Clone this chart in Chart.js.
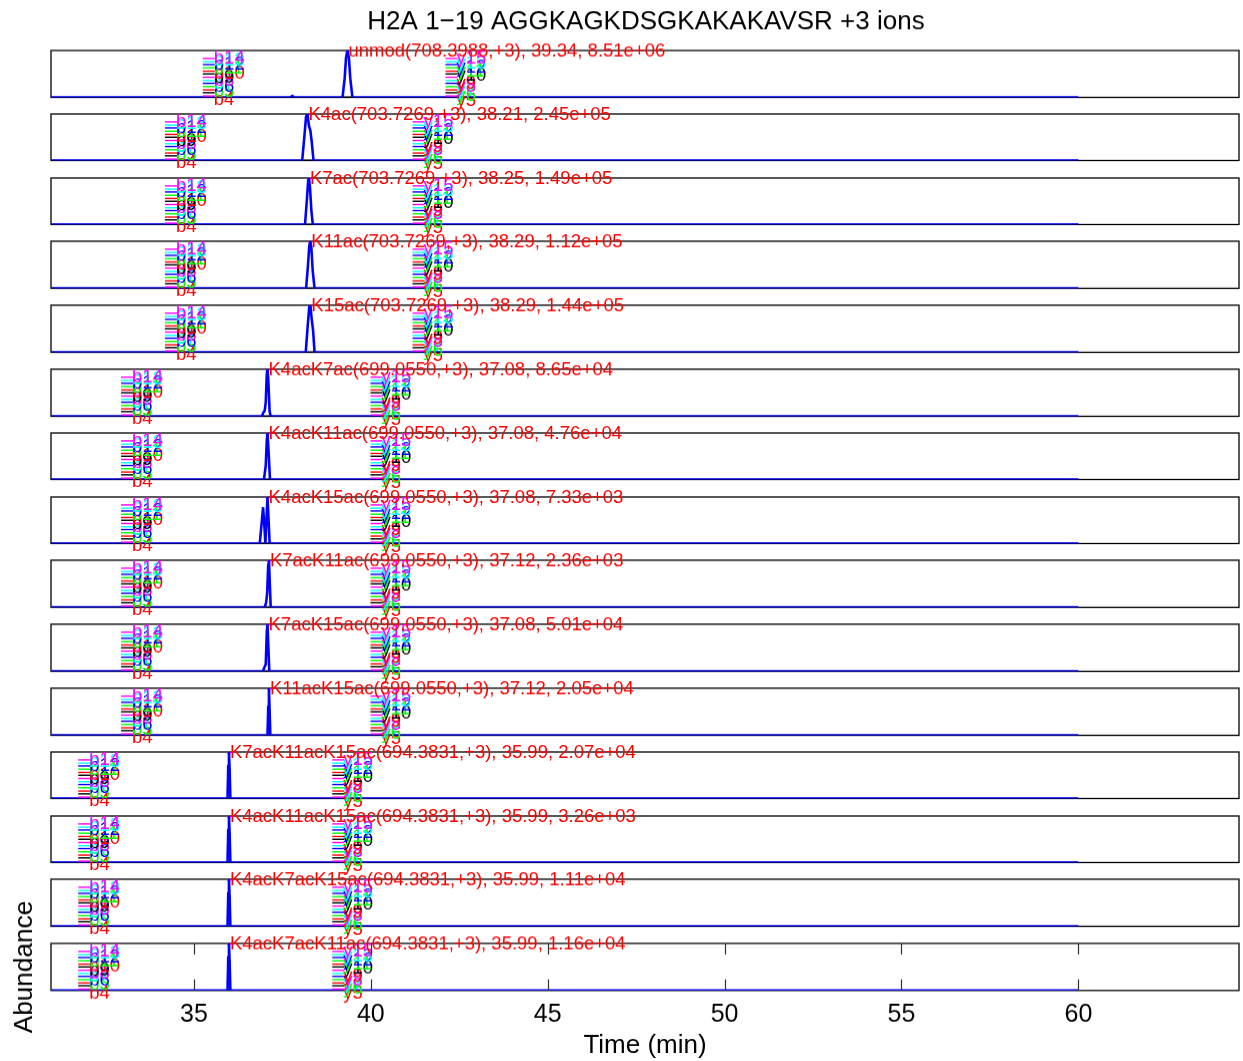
<!DOCTYPE html>
<html>
<head>
<meta charset="utf-8">
<title>H2A 1-19 XIC</title>
<script src="https://cdn.jsdelivr.net/npm/chart.js@4.4.1/dist/chart.umd.min.js"></script>
<style>
  html, body { margin: 0; padding: 0; background: #fff; }
  #wrap { position: relative; width: 1243px; height: 1061px; overflow: hidden; }
  .panel { position: absolute; left: 0; width: 1243px; }
</style>
</head>
<body>
<div id="wrap"></div>
<script>
const titleText = 'H2A 1\u221219 AGGKAGKDSGKAKAKAVSR +3 ions';

// one row per modified form
const peptides = ['unmod', 'K4ac', 'K7ac', 'K11ac', 'K15ac', 'K4acK7ac', 'K4acK11ac', 'K4acK15ac',
  'K7acK11ac', 'K7acK15ac', 'K11acK15ac', 'K7acK11acK15ac', 'K4acK11acK15ac', 'K4acK7acK15ac', 'K4acK7acK11ac'];
const precursorMz = [708.3988, 703.7269, 703.7269, 703.7269, 703.7269, 699.0550, 699.0550, 699.0550,
  699.0550, 699.0550, 699.0550, 694.3831, 694.3831, 694.3831, 694.3831];
const chargeState = 3;
const peakRT = [39.34, 38.21, 38.25, 38.29, 38.29, 37.08, 37.08, 37.08, 37.12, 37.08, 37.12, 35.99, 35.99, 35.99, 35.99];
const peakArea = [8.51e6, 2.45e5, 1.49e5, 1.12e5, 1.44e5, 8.65e4, 4.76e4, 7.33e3, 2.36e3, 5.01e4, 2.05e4,
  2.07e4, 3.26e3, 1.11e4, 1.16e4];
const peakStart = [39.20, 38.06, 38.14, 38.17, 38.16, 36.92, 36.98, 36.86, 37.00, 36.95, 37.08, 35.95, 35.95, 35.95, 35.95];
const peakEnd = [39.48, 38.38, 38.36, 38.41, 38.41, 37.17, 37.15, 37.14, 37.17, 37.13, 37.16, 36.03, 36.03, 36.03, 36.03];

// extracted ion chromatograms, normalised to the apex (zero elsewhere)
const xicTime = [
  [37.72, 37.78, 37.84, 39.20, 39.26, 39.30, 39.34, 39.38, 39.42, 39.48],
  [38.06, 38.12, 38.17, 38.21, 38.25, 38.29, 38.33, 38.38],
  [38.14, 38.19, 38.23, 38.25, 38.28, 38.32, 38.36],
  [38.17, 38.22, 38.26, 38.29, 38.32, 38.36, 38.41],
  [38.16, 38.22, 38.26, 38.29, 38.33, 38.37, 38.41],
  [36.92, 36.96, 37.00, 37.03, 37.06, 37.08, 37.10, 37.14, 37.17],
  [36.98, 37.03, 37.06, 37.08, 37.11, 37.15],
  [36.86, 36.91, 36.955, 36.99, 37.02, 37.05, 37.08, 37.11, 37.14],
  [37.00, 37.04, 37.07, 37.10, 37.12, 37.14, 37.17],
  [36.95, 36.99, 37.03, 37.06, 37.08, 37.10, 37.13],
  [37.08, 37.10, 37.12, 37.14, 37.16],
  [35.95, 35.97, 35.99, 36.01, 36.03],
  [35.95, 35.97, 35.99, 36.01, 36.03],
  [35.95, 35.97, 35.99, 36.01, 36.03],
  [35.95, 35.97, 35.99, 36.01, 36.03]
];
const xicAbund = [
  [0, 0.03, 0, 0, 0.4, 0.85, 1, 0.85, 0.4, 0],
  [0, 0.5, 0.95, 1, 0.75, 0.65, 0.4, 0],
  [0, 0.5, 0.95, 1, 0.8, 0.3, 0],
  [0, 0.45, 0.9, 1, 0.85, 0.35, 0],
  [0, 0.6, 0.97, 1, 0.7, 0.45, 0],
  [0, 0.08, 0.12, 0.3, 0.9, 1, 0.8, 0.1, 0],
  [0, 0.3, 0.85, 1, 0.6, 0],
  [0, 0.4, 0.78, 0.4, 0, 0.5, 1, 0.5, 0],
  [0, 0.1, 0.3, 0.9, 1, 0.6, 0],
  [0, 0.08, 0.15, 0.85, 1, 0.6, 0],
  [0, 0.6, 1, 0.5, 0],
  [0, 0.7, 1, 0.6, 0],
  [0, 0.7, 1, 0.6, 0],
  [0, 0.7, 1, 0.6, 0],
  [0, 0.7, 1, 0.6, 0]
];

// fragment ion labels
const bIonRT = [35.59, 34.52, 34.52, 34.52, 34.52, 33.28, 33.28, 33.28, 33.28, 33.28, 33.28, 32.07, 32.07, 32.07, 32.07];
const yIonRT = [42.45, 41.52, 41.52, 41.52, 41.52, 40.33, 40.33, 40.33, 40.33, 40.33, 40.33, 39.25, 39.25, 39.25, 39.25];
const bIons = ['b14', 'b13', 'b12', 'b11', 'b10', 'b9', 'b8', 'b7', 'b6', 'b5', 'b4'];
const bIonLevel = [0.84, 0.78, 0.70, 0.62, 0.50, 0.42, 0.36, 0.30, 0.22, 0.12, -0.06];
const yIons = ['y15', 'y13', 'y12', 'y11', 'y10', 'y9', 'y8', 'y7', 'y6', 'y5'];
const yIonLevel = [0.84, 0.72, 0.64, 0.56, 0.46, 0.30, 0.22, 0.14, 0.03, -0.07];
const dashLevel = [0.83, 0.76, 0.70, 0.63, 0.56, 0.50, 0.43, 0.36, 0.30, 0.23, 0.16, 0.10, 0.03];

const timeTicks = [35, 40, 45, 50, 55, 60];
const timeMin = 30.96, timeMax = 64.54, traceEnd = 60;

// colours
const palette = { m: '#ff00ff', c: '#00ffff', b: '#0000ff', g: '#00ff00', r: '#ff0000', k: '#000000' };
const bIonColor = 'mcbgrkmcbgr';
const yIonColor = 'mcbgkrmcgr';
const dashColor = 'mcbgrkmcbgrkm';

const FONT = "'Liberation Sans', Arial, Helvetica, sans-serif";
const panelTop0 = 50, panelStep = 63.8, panelH = 46.5, margin = 14, lastMargin = 80;

function fmtArea(a) {
  return a.toExponential(2).replace(/e([+-])(\d)$/, 'e$10$2');
}

function drawCluster(ctx, xs, ys, rt, names, levels, colors) {
  const x0 = xs.getPixelForValue(rt);
  const xd = xs.getPixelForValue(rt - 0.34);
  ctx.lineWidth = 1.4;
  dashLevel.forEach((lv, k) => {
    const y = ys.getPixelForValue(lv);
    ctx.strokeStyle = palette[dashColor[k]];
    ctx.beginPath();
    ctx.moveTo(xd, y);
    ctx.lineTo(x0, y);
    ctx.stroke();
  });
  ctx.textAlign = 'left';
  ctx.textBaseline = 'middle';
  // lowest label first so the upper ones stay readable
  for (let k = names.length - 1; k >= 0; k--) {
    ctx.fillStyle = palette[colors[k]];
    ctx.fillText(names[k], x0 - 1, ys.getPixelForValue(levels[k]));
  }
}

const panelDeco = {
  id: 'panelDeco',
  beforeDatasetsDraw(chart) {
    const { ctx, chartArea: a } = chart;
    ctx.save();
    ctx.strokeStyle = '#000';
    ctx.lineWidth = 1.3;
    ctx.strokeRect(a.left, a.top, a.right - a.left, a.bottom - a.top);
    ctx.restore();
  },
  afterDatasetsDraw(chart, args, opts) {
    const i = opts.index;
    const { ctx, chartArea: a } = chart;
    const xs = chart.scales.x, ys = chart.scales.y;
    ctx.save();
    ctx.font = '18.5px ' + FONT;
    drawCluster(ctx, xs, ys, bIonRT[i], bIons, bIonLevel, bIonColor);
    drawCluster(ctx, xs, ys, yIonRT[i], yIons, yIonLevel, yIonColor);

    // peak annotation
    const label = peptides[i] + '(' + precursorMz[i].toFixed(4) + ',+' + chargeState + '), ' +
      peakRT[i].toFixed(2) + ', ' + fmtArea(peakArea[i]);
    ctx.fillStyle = '#ff0000';
    ctx.textBaseline = 'middle';
    ctx.fillText(label, xs.getPixelForValue(peakRT[i]) + 1, ys.getPixelForValue(1) + 1);

    // inward tick marks on the time axis
    if (opts.ticks) {
      ctx.strokeStyle = '#333';
      ctx.lineWidth = 1.2;
      timeTicks.forEach(t => {
        const x = Math.round(xs.getPixelForValue(t)) + 0.5;
        ctx.beginPath();
        ctx.moveTo(x, a.bottom); ctx.lineTo(x, a.bottom - 11);
        ctx.moveTo(x, a.top); ctx.lineTo(x, a.top + 11);
        ctx.stroke();
      });
    }
    ctx.restore();
  }
};

// "Abundance" sits beside the bottom panel but is taller than it
const sideTitle = {
  id: 'sideTitle',
  afterDraw(chart, args, opts) {
    if (!opts.text) return;
    const { ctx, chartArea: a } = chart;
    ctx.save();
    ctx.translate(25, (a.top + a.bottom) / 2);
    ctx.rotate(-Math.PI / 2);
    ctx.font = '26px ' + FONT;
    ctx.fillStyle = '#000';
    ctx.textAlign = 'center';
    ctx.textBaseline = 'middle';
    ctx.fillText(opts.text, 0, 0);
    ctx.restore();
  }
};

const wrap = document.getElementById('wrap');
const nPanels = peptides.length;

for (let i = 0; i < nPanels; i++) {
  const first = i === 0, last = i === nPanels - 1;
  const top = panelTop0 + i * panelStep;
  const padTop = last ? lastMargin : margin;
  const cTop = first ? 0 : top - padTop;
  const cBottom = last ? 1061 : top + panelH + margin;

  const div = document.createElement('div');
  div.className = 'panel';
  div.style.top = cTop + 'px';
  div.style.height = (cBottom - cTop) + 'px';
  const cv = document.createElement('canvas');
  div.appendChild(cv);
  wrap.appendChild(div);

  const trace = [{ x: timeMin, y: 0 }]
    .concat(xicTime[i].map((t, k) => ({ x: t, y: xicAbund[i][k] })))
    .concat([{ x: traceEnd, y: 0 }]);

  const xScale = {
    type: 'linear',
    min: timeMin,
    max: timeMax,
    display: false
  };
  if (last) {
    Object.assign(xScale, {
      display: true,
      grid: { display: false },
      border: { display: false },
      afterBuildTicks: s => { s.ticks = timeTicks.map(v => ({ value: v })); },
      afterFit: s => { s.height = 71; },
      ticks: { color: '#000', padding: 1, font: { family: FONT, size: 25 } },
      title: { display: true, text: 'Time (min)', color: '#000', padding: { top: 2, bottom: 0 },
        font: { family: FONT, size: 26 } }
    });
  }

  new Chart(cv, {
    type: 'line',
    data: {
      datasets: [
        { data: trace, borderColor: '#0000ff', borderWidth: 2.6, pointRadius: 0, tension: 0 },
        { data: [{ x: peakStart[i], y: 0 }, { x: peakEnd[i], y: 0 }], borderColor: '#000', borderWidth: 2, pointRadius: 0 },
        { data: [{ x: peakRT[i], y: 1 }], showLine: false, pointRadius: 2.2, pointBorderWidth: 0,
          pointBackgroundColor: '#ff00ff' }
      ]
    },
    options: {
      responsive: true,
      maintainAspectRatio: false,
      animation: false,
      events: [],
      layout: {
        padding: {
          left: 51,
          right: 2,
          top: first ? 0 : padTop,
          bottom: last ? 0 : margin
        }
      },
      scales: {
        x: xScale,
        y: { min: 0, max: 1, display: false }
      },
      plugins: {
        legend: { display: false },
        tooltip: { enabled: false },
        title: {
          display: first,
          text: titleText,
          color: '#000',
          padding: { top: 6.4, bottom: 12.4 },
          font: { family: FONT, size: 26, weight: 'normal' }
        },
        panelDeco: { index: i, ticks: last },
        sideTitle: { text: last ? 'Abundance' : '' }
      }
    },
    plugins: [panelDeco, sideTitle]
  });
}
</script>
</body>
</html>
